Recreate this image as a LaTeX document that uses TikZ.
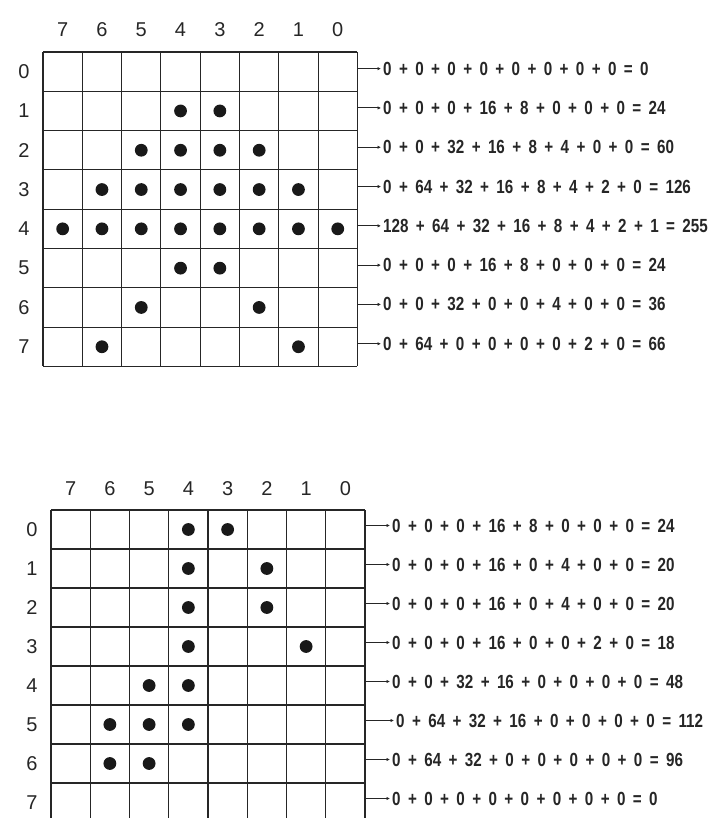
\documentclass[tikz,border=0pt]{standalone}
\usepackage{fontspec}
\setmainfont{Liberation Sans}
\newfontfamily\exf[FakeStretch=0.8]{Liberation Sans Bold}
\usetikzlibrary{arrows.meta}
\newcommand\xpl{\hspace{7.4pt}+\hspace{7.4pt}}
\newcommand\xeq{\hspace{7.4pt}=\hspace{7.4pt}}
\begin{document}
\begin{tikzpicture}[x=1pt,y=-1pt,
  gridline/.style={line width=1.1pt,black!85},
  lbl/.style={font=\fontsize{20}{22}\selectfont,inner sep=0pt,text=black!85},
  expr/.style={font=\exf\fontsize{19}{21}\selectfont,inner sep=0pt,anchor=west,text=black!85},
  conn/.style={line width=1pt,black!85,-{Latex[length=3.5pt,width=3.5pt]},shorten >=2pt},
  dot/.style={fill=black!90}]
\useasboundingbox (0,0) rectangle (718,818);
% ---------------- top grid ----------------
\def\tx{43}\def\ty{52}\def\tc{39.3}
\foreach \i in {0,...,8}{
  \draw[gridline] ({\tx+\i*\tc},\ty) -- ({\tx+\i*\tc},{\ty+8*\tc});
  \draw[gridline] (\tx,{\ty+\i*\tc}) -- ({\tx+8*\tc},{\ty+\i*\tc});
}
\foreach \c in {0,...,7}{
  \node[lbl] (th\c) at ({\tx+(7-\c+0.5)*\tc},30) {\c};
}
\foreach \r in {0,...,7}{
  \node[lbl] (tr\r) at (24,{\ty+(\r+0.5)*\tc}) {\r};
  \coordinate (ta\r) at ({\tx+8*\tc},{\ty+(\r+0.5)*\tc-3});
}
\foreach \r/\c in {1/4,1/3, 2/5,2/4,2/3,2/2, 3/6,3/5,3/4,3/3,3/2,3/1,
  4/7,4/6,4/5,4/4,4/3,4/2,4/1,4/0, 5/4,5/3, 6/5,6/2, 7/6,7/1}{
  \fill[dot] ({\tx+(7-\c+0.5)*\tc},{\ty+(\r+0.5)*\tc}) circle[radius=6.4pt];
}
\node[expr] (te0) at (383,{\ty+0.5*\tc-3}) {0\xpl 0\xpl 0\xpl 0\xpl 0\xpl 0\xpl 0\xpl 0\xeq 0};
\node[expr] (te1) at (383,{\ty+1.5*\tc-3}) {0\xpl 0\xpl 0\xpl 16\xpl 8\xpl 0\xpl 0\xpl 0\xeq 24};
\node[expr] (te2) at (383,{\ty+2.5*\tc-3}) {0\xpl 0\xpl 32\xpl 16\xpl 8\xpl 4\xpl 0\xpl 0\xeq 60};
\node[expr] (te3) at (383,{\ty+3.5*\tc-3}) {0\xpl 64\xpl 32\xpl 16\xpl 8\xpl 4\xpl 2\xpl 0\xeq 126};
\node[expr] (te4) at (383,{\ty+4.5*\tc-3}) {128\xpl 64\xpl 32\xpl 16\xpl 8\xpl 4\xpl 2\xpl 1\xeq 255};
\node[expr] (te5) at (383,{\ty+5.5*\tc-3}) {0\xpl 0\xpl 0\xpl 16\xpl 8\xpl 0\xpl 0\xpl 0\xeq 24};
\node[expr] (te6) at (383,{\ty+6.5*\tc-3}) {0\xpl 0\xpl 32\xpl 0\xpl 0\xpl 4\xpl 0\xpl 0\xeq 36};
\node[expr] (te7) at (383,{\ty+7.5*\tc-3}) {0\xpl 64\xpl 0\xpl 0\xpl 0\xpl 0\xpl 2\xpl 0\xeq 66};
\foreach \r in {0,...,7}{ \draw[conn] (ta\r) -- (te\r.west); }
% ---------------- bottom grid ----------------
\def\bx{51}\def\by{510}\def\bw{39.25}\def\bh{39}
\begin{scope}
\clip (0,0) rectangle (718,818);
\foreach \i in {0,...,8}{
  \draw[gridline] ({\bx+\i*\bw},\by) -- ({\bx+\i*\bw},{\by+8*\bh});
  \draw[gridline] (\bx,{\by+\i*\bh}) -- ({\bx+8*\bw},{\by+\i*\bh});
}
\end{scope}
\foreach \c in {0,...,7}{
  \node[lbl] (bh\c) at ({\bx+(7-\c+0.5)*\bw},489) {\c};
}
\foreach \r in {0,...,7}{
  \node[lbl] (br\r) at (32,{\by+(\r+0.5)*\bh}) {\r};
  \coordinate (ba\r) at ({\bx+8*\bw},{\by+(\r+0.5)*\bh-4});
}
\foreach \r/\c in {0/4,0/3, 1/4,1/2, 2/4,2/2, 3/4,3/1, 4/5,4/4, 5/6,5/5,5/4, 6/6,6/5}{
  \fill[dot] ({\bx+(7-\c+0.5)*\bw},{\by+(\r+0.5)*\bh}) circle[radius=6.4pt];
}
\node[expr] (be0) at (392,{\by+0.5*\bh-4}) {0\xpl 0\xpl 0\xpl 16\xpl 8\xpl 0\xpl 0\xpl 0\xeq 24};
\node[expr] (be1) at (392,{\by+1.5*\bh-4}) {0\xpl 0\xpl 0\xpl 16\xpl 0\xpl 4\xpl 0\xpl 0\xeq 20};
\node[expr] (be2) at (392,{\by+2.5*\bh-4}) {0\xpl 0\xpl 0\xpl 16\xpl 0\xpl 4\xpl 0\xpl 0\xeq 20};
\node[expr] (be3) at (392,{\by+3.5*\bh-4}) {0\xpl 0\xpl 0\xpl 16\xpl 0\xpl 0\xpl 2\xpl 0\xeq 18};
\node[expr] (be4) at (392,{\by+4.5*\bh-4}) {0\xpl 0\xpl 32\xpl 16\xpl 0\xpl 0\xpl 0\xpl 0\xeq 48};
\node[expr] (be5) at (396,{\by+5.5*\bh-4}) {0\xpl 64\xpl 32\xpl 16\xpl 0\xpl 0\xpl 0\xpl 0\xeq 112};
\node[expr] (be6) at (392,{\by+6.5*\bh-4}) {0\xpl 64\xpl 32\xpl 0\xpl 0\xpl 0\xpl 0\xpl 0\xeq 96};
\node[expr] (be7) at (392,{\by+7.5*\bh-4}) {0\xpl 0\xpl 0\xpl 0\xpl 0\xpl 0\xpl 0\xpl 0\xeq 0};
\foreach \r in {0,...,7}{ \draw[conn] (ba\r) -- (be\r.west); }
\end{tikzpicture}
\end{document}
